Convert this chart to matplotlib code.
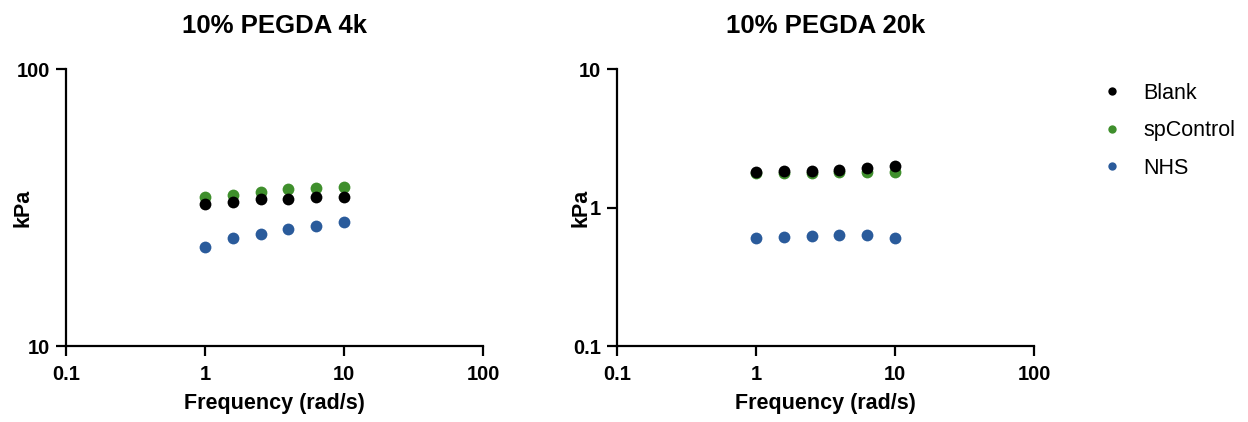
import matplotlib
matplotlib.use("Agg")
import matplotlib.pyplot as plt
from matplotlib.lines import Line2D

plt.rcParams['font.family'] = ['Liberation Sans', 'DejaVu Sans']

# Angular frequency sweep (rad/s)
freq = [1.0, 1.585, 2.512, 3.981, 6.310, 10.0]

# 10% PEGDA 4k storage modulus (kPa)
blank_4k = [32.6, 33.2, 33.9, 34.0, 34.5, 34.6]
spcontrol_4k = [34.6, 35.2, 36.0, 36.8, 37.3, 37.6]
nhs_4k = [22.8, 24.5, 25.3, 26.4, 27.1, 28.0]

# 10% PEGDA 20k storage modulus (kPa)
blank_20k = [1.81, 1.82, 1.84, 1.85, 1.92, 2.00]
spcontrol_20k = [1.77, 1.78, 1.78, 1.79, 1.80, 1.80]
nhs_20k = [0.60, 0.615, 0.625, 0.632, 0.636, 0.60]

titles = ["10% PEGDA 4k", "10% PEGDA 20k"]
series_names = ["Blank", "spControl", "NHS"]
colors = {"Blank": "#000000", "spControl": "#3f8f2c", "NHS": "#2a5b9b"}
x_ticks = [0.1, 1, 10, 100]
x_ticklabels = ["0.1", "1", "10", "100"]
y_ticks_4k = [10, 100]
y_ticks_20k = [0.1, 1, 10]

W, H = 1248, 422
fig = plt.figure(figsize=(W / 100, H / 100), dpi=100)
ax1 = fig.add_axes([66 / W, 1 - 346 / H, 417 / W, 277 / H])
ax2 = fig.add_axes([617 / W, 1 - 346 / H, 417 / W, 277 / H])

panels = [
    (ax1, titles[0], [spcontrol_4k, blank_4k, nhs_4k], (10, 100), y_ticks_4k, -0.077),
    (ax2, titles[1], [spcontrol_20k, blank_20k, nhs_20k], (0.1, 10), y_ticks_20k, -0.062),
]
order = ["spControl", "Blank", "NHS"]

for ax, title, data, ylim, yticks, ylab_x in panels:
    for name, vals in zip(order, data):
        ax.plot(freq, vals, 'o', color=colors[name], markersize=8.5,
                markeredgewidth=0, clip_on=False, zorder=3)
    ax.set_xscale('log')
    ax.set_yscale('log')
    ax.set_xlim(0.1, 100)
    ax.set_ylim(*ylim)
    ax.set_xticks(x_ticks)
    ax.set_xticklabels(x_ticklabels)
    ax.set_yticks(yticks)
    ax.set_yticklabels([("%g" % t) for t in yticks])
    ax.minorticks_off()
    for side in ('top', 'right'):
        ax.spines[side].set_visible(False)
    for side in ('left', 'bottom'):
        ax.spines[side].set_linewidth(1.6)
    ax.tick_params(axis='both', which='major', length=7.5, width=1.6,
                   labelsize=14.5)
    ax.tick_params(axis='x', pad=6)
    ax.tick_params(axis='y', pad=4)
    for lab in ax.get_xticklabels() + ax.get_yticklabels():
        lab.set_fontweight('bold')
    ax.set_title(title, fontsize=18.5, fontweight='bold', pad=26)
    ax.set_xlabel("Frequency (rad/s)", fontsize=15.5, fontweight='bold', labelpad=6.5)
    ax.set_ylabel("kPa", fontsize=15.5, fontweight='bold')
    ax.yaxis.set_label_coords(ylab_x, 0.5)

handles = [Line2D([], [], linestyle='none', marker='o', markersize=6,
                  markeredgewidth=0, color=colors[n]) for n in series_names]
fig.legend(handles, series_names, loc='upper left',
           bbox_to_anchor=(1101 / W, 1 - 83 / H), frameon=False,
           fontsize=15.5, handletextpad=0.97, labelspacing=0.76,
           handlelength=1.0, borderaxespad=0, borderpad=0)

fig.savefig("out.png", dpi=100)
